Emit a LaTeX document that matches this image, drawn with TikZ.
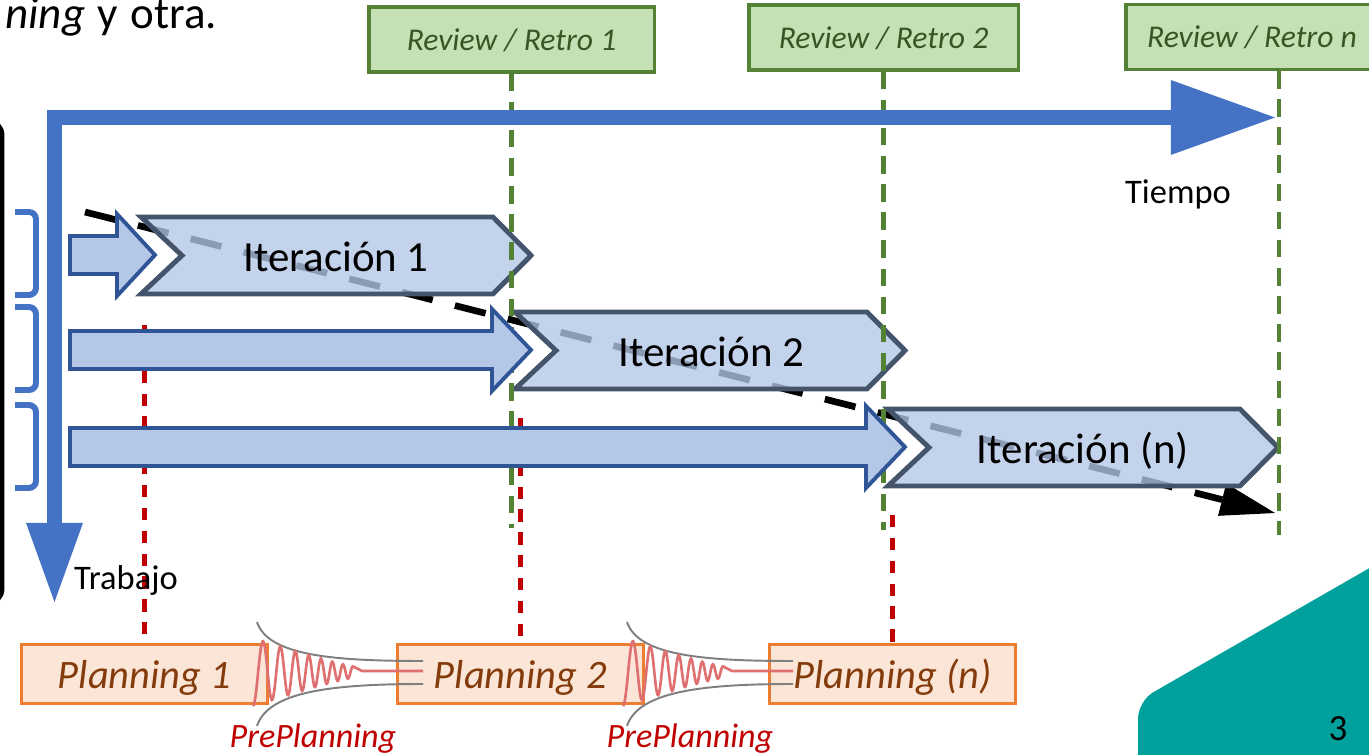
\documentclass[tikz,border=0pt]{standalone}
\usepackage{fontspec}
\setmainfont{Carlito}
\usepackage{tikz}
\usetikzlibrary{arrows.meta,positioning}
\definecolor{axisblue}{RGB}{68,114,196}
\definecolor{blockfill}{RGB}{180,199,231}
\definecolor{workline}{RGB}{47,85,151}
\definecolor{iterline}{RGB}{68,84,106}
\definecolor{retrofill}{RGB}{197,224,180}
\definecolor{retroline}{RGB}{84,130,53}
\definecolor{retrotext}{RGB}{55,86,35}
\definecolor{planfill}{RGB}{251,229,214}
\definecolor{planline}{RGB}{237,125,49}
\definecolor{plantext}{RGB}{132,60,12}
\definecolor{cutred}{RGB}{192,0,0}
\definecolor{wavered}{RGB}{222,112,112}
\definecolor{funnelgrey}{RGB}{127,127,127}
\definecolor{slideteal}{RGB}{0,161,157}

\begin{document}
\begin{tikzpicture}[x=0.01cm, y=-0.01cm,
  retro/.style={draw=retroline, fill=retrofill, line width=0.9pt, minimum height=0.65cm, text depth=0pt, font=\itshape\fontsize{9}{11}\selectfont, text=retrotext},
  plan/.style={draw=planline, fill=planfill, line width=0.85pt, minimum width=2.45cm, minimum height=0.59cm, text depth=0pt, font=\itshape\fontsize{11.5}{13}\selectfont, text=plantext},
  iter/.style={draw=iterline, fill=blockfill, fill opacity=0.78, line width=1.4pt, line join=miter},
  work/.style={draw=workline, fill=blockfill, line width=1.1pt, line join=miter},
  itlabel/.style={anchor=base, font=\fontsize{12.2}{14}\selectfont},
  axislabel/.style={anchor=base, font=\fontsize{9.8}{12}\selectfont},
  preplan/.style={anchor=base, font=\itshape\fontsize{9.7}{12}\selectfont, text=cutred},
  reviewline/.style={draw=retroline, line width=1.35pt, dash pattern=on 5pt off 3pt},
  planmark/.style={draw=cutred, line width=1.15pt, dash pattern=on 3.5pt off 3pt},
  bracket/.style={draw=axisblue, line width=1.7pt, rounded corners=2pt},
  flow/.style={line width=1.9pt, dash pattern=on 9pt off 6.5pt, -{Triangle[length=15.5pt, width=9.5pt, line width=0pt]}},
  axisline/.style={draw=axisblue, line width=4.3pt, line join=miter, {Triangle[length=22.5pt, width=16.2pt, line width=0pt]}-{Triangle[length=29.6pt, width=21.3pt, line width=0pt]}},
  wave/.style={draw=wavered, line width=0.75pt},
  funnel/.style={draw=funnelgrey, line width=0.55pt}
]
  \path[use as bounding box] (0,0) rectangle (1369,755);
  \clip (0,0) rectangle (1369,755);

  \node[anchor=base east, inner sep=0pt, font=\fontsize{12.8}{15}\selectfont] (intro) at (218,29) {\textit{ning}\hspace{0.28em}y\hspace{0.28em}otra.};

  % frame on the left and the three brackets
  \draw[line width=1.4pt, rounded corners=4pt] (-60,121) rectangle (2,603);
  \draw[bracket] (15,212) -- (36,212) -- (36,295) -- (15,295);
  \draw[bracket] (15,307) -- (36,307) -- (36,390) -- (15,390);
  \draw[bracket] (15,405) -- (36,405) -- (36,488) -- (15,488);

  % reviews
  \node[retro, minimum width=2.85cm] (r1) at (511.5,39.5) {Review / Retro 1};
  \node[retro, minimum width=2.69cm] (r2) at (883.5,37.5) {Review / Retro 2};
  \node[retro, minimum width=2.52cm] (r3) at (1252,37) {Review / Retro n};

  % progress line, runs under the iterations
  \coordinate (fs) at (85,212);
  \coordinate (fe) at (1275,513);
  \draw[flow] (fs) -- (fe);

  % iterations
  \draw[iter] (141,217) -- ++(352,0) -- ++(38,38.5) -- ++(-38,38.5) -- ++(-352,0) -- ++(41,-38.5) -- cycle;
  \draw[iter] (515,312) -- ++(352,0) -- ++(38,38.5) -- ++(-38,38.5) -- ++(-352,0) -- ++(41,-38.5) -- cycle;
  \draw[iter] (888,409) -- ++(352,0) -- ++(38,38.5) -- ++(-38,38.5) -- ++(-352,0) -- ++(41,-38.5) -- cycle;
  \node[itlabel] (it1) at (336,272) {Iteración 1};
  \node[itlabel] (it2) at (711.5,367) {Iteración 2};
  \node[itlabel] (it3) at (1083,464) {Iteración (n)};

  \coordinate (g1) at (511.5,528);
  \coordinate (g2) at (883.5,530);
  \coordinate (g3) at (1279,535);
  \draw[reviewline] (r1.south) -- (g1);
  \draw[reviewline] (r2.south) -- (g2);
  \draw[reviewline] (r3.south -| g3) -- (g3);

  % plannings
  \node[plan] (p1) at (144.5,674) {Planning 1};
  \node[plan] (p2) at (520.5,674) {Planning 2};
  \node[plan] (p3) at (892.5,674) {Planning (n)};
  \coordinate (m1) at (144.5,325);
  \coordinate (m2) at (520.5,418);
  \coordinate (m3) at (892.5,515);
  \draw[planmark] (m1) -- (p1.north);
  \draw[planmark] (m2) -- (p2.north);
  \draw[planmark] (m3) -- (p3.north);

  % work arrows
  \draw[work] (70,236) -- (117,236) -- (117,214) -- (155,255) -- (117,296) -- (117,274) -- (70,274) -- cycle;
  \draw[work] (70,331) -- (492,331) -- (492,309) -- (531,350) -- (492,391) -- (492,369) -- (70,369) -- cycle;
  \draw[work] (70,428) -- (866,428) -- (866,406) -- (905,447) -- (866,488) -- (866,466) -- (70,466) -- cycle;

  % axes
  \coordinate (corner) at (54.5,117.5);
  \coordinate (tmax) at (1275,117.5);
  \coordinate (wmax) at (54.5,602);
  \draw[axisline] (wmax) -- (corner) -- (tmax);
  \node[axislabel] (tiempo) at (1178,204) {Tiempo};
  \node[axislabel] (trabajo) at (126,590) {Trabajo};

  % preplanning between plannings
  \draw[funnel] (257,622) .. controls (268,655) and (330,661) .. (423,661);
  \draw[funnel] (257,726) .. controls (268,692) and (330,684) .. (423,684);
  \draw[wave] plot[domain=0:1, samples=160, smooth] ({253+100*\x}, {672+34*exp(-1.0*\x-0.8*\x*\x*\x)*cos(360*(4.72*\x+2.78*\x*\x))}) -- (362,671) -- (423,671);
  \node[preplan] (pp1) at (313,748) {PrePlanning};

  \draw[funnel] (627,622) .. controls (638,655) and (700,661) .. (793,661);
  \draw[funnel] (627,726) .. controls (638,692) and (700,684) .. (793,684);
  \draw[wave] plot[domain=0:1, samples=160, smooth] ({623+100*\x}, {672+34*exp(-1.0*\x-0.8*\x*\x*\x)*cos(360*(4.72*\x+2.78*\x*\x))}) -- (732,671) -- (793,671);
  \node[preplan] (pp2) at (690,748) {PrePlanning};

  % slide corner
  \fill[slideteal] (1138,760) [rounded corners=5pt] -- (1138,701) [sharp corners] -- (1380,562) -- (1380,760) -- cycle;
  \node[font=\fontsize{10.5}{12}\selectfont] (pnum) at (1338,729) {3};
\end{tikzpicture}
\end{document}
